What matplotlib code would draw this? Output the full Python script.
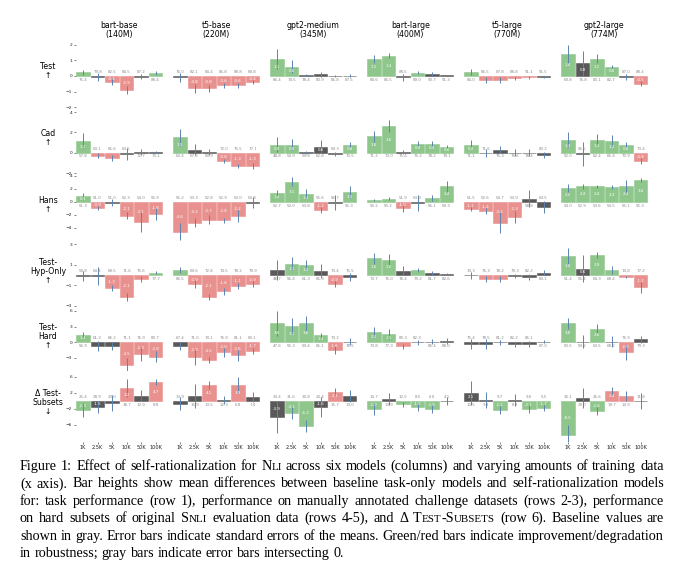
import re
import matplotlib.pyplot as plt

sizes = ['1K', '2.5K', '5K', '10K', '50K', '100K']
models = ['bart-base\n(140M)', 't5-base\n(220M)', 'gpt2-medium\n(345M)',
          'bart-large\n(400M)', 't5-large\n(770M)', 'gpt2-large\n(774M)']
row_labels = ['Test\n↑', 'Cad\n↑', 'Hans\n↑', 'Test-\nHyp-Only\n↑',
              'Test-\nHard\n↑', 'Δ Test-\nSubsets\n↓']

# row 1: Test (one list per model, bars = training sizes)
test_diff = [[0.22, -0.05, -0.36, -0.88, -0.05, 0.18],
             [-0.1, -0.8, -0.8, -0.6, -0.6, -0.4],
             [1.1, 0.6, 0.05, 0.1, 0.02, 0.02],
             [1.1, 1.3, -0.1, 0.2, 0.1, 0.03],
             [0.25, -0.25, -0.25, -0.15, -0.1, -0.05],
             [1.4, 0.8, 1.1, 0.6, -0.05, -0.5]]
test_err = [[0.17, 0.25, 0.2, 0.25, 0.15, 0.12],
            [0.3, 0.3, 0.2, 0.15, 0.15, 0.15],
            [0.65, 0.4, 0.08, 0.15, 0.06, 0.1],
            [0.25, 0.15, 0.25, 0.1, 0.12, 0.05],
            [0.2, 0.2, 0.2, 0.1, 0.08, 0.06],
            [0.55, 0.82, 0.3, 0.1, 0.2, 0.15]]
test_base = [[75.4, 79.8, 82.5, 84.5, 87.2, 88.4],
             [76.0, 82.1, 84.4, 85.8, 88.8, 89.8],
             [66.4, 74.5, 78.4, 80.9, 85.8, 87.5],
             [84.6, 86.5, 88.5, 89.0, 90.7, 91.3],
             [84.0, 86.5, 87.8, 88.8, 91.1, 91.5],
             [69.8, 76.8, 80.1, 82.7, 87.0, 88.4]]

# row 2: Cad
cad_diff = [[1.2, -0.3, -0.5, -0.1, 0.05, 0.03],
            [1.5, 0.3, 0.1, -0.8, -1.3, -1.3],
            [0.8, 0.8, 0.05, 0.6, -0.1, 0.8],
            [1.6, 2.6, 0.1, 0.9, 0.9, 0.6],
            [0.8, -0.05, 0.3, 0.02, 0.02, -0.2],
            [1.3, -0.1, 1.3, 1.2, 0.8, -0.8]]
cad_err = [[0.75, 0.25, 0.3, 0.6, 0.3, 0.1],
           [0.8, 0.55, 0.3, 0.2, 0.2, 0.3],
           [0.7, 0.55, 0.15, 0.65, 0.2, 0.3],
           [0.5, 0.6, 0.2, 0.25, 0.3, 0.2],
           [0.45, 0.4, 0.35, 0.3, 0.3, 0.3],
           [0.7, 1.2, 0.5, 0.5, 0.3, 0.3]]
cad_base = [[57.8, 63.1, 65.6, 63.5, 72.7, 73.1],
            [63.4, 67.6, 69.9, 72.0, 75.5, 77.1],
            [48.8, 54.9, 59.8, 62.8, 69.3, 70.5],
            [71.2, 73.0, 75.4, 76.2, 78.2, 79.1],
            [71.1, 71.6, 75.3, 76.6, 78.4, 80.2],
            [52.0, 56.5, 62.4, 65.4, 70.9, 73.4]]

# row 3: Hans
hans_diff = [[0.9, -0.9, -0.1, -2.1, -3.1, -1.8],
             [-4.6, -3.2, -2.7, -2.8, -2.2, -0.1],
             [1.4, 3.1, 1.3, -1.2, -0.1, 1.5],
             [0.3, 0.5, -1.0, -0.2, 0.6, 2.4],
             [-1.1, -1.4, -3.2, -2.3, 0.5, -0.8],
             [2.1, 2.4, 2.4, 2.3, 2.4, 3.4]]
hans_err = [[0.5, 0.3, 0.5, 0.5, 1.5, 0.9],
            [1.3, 0.7, 0.7, 0.4, 0.9, 0.8],
            [0.5, 0.7, 0.7, 0.5, 1.2, 0.9],
            [0.1, 0.2, 0.6, 1.2, 0.5, 0.8],
            [0.3, 0.5, 1.6, 0.9, 1.3, 0.9],
            [0.6, 0.4, 0.2, 0.3, 1.0, 0.3]]
hans_base = [[51.3, 51.0, 51.0, 52.3, 54.0, 55.9],
             [55.2, 53.3, 52.8, 52.9, 53.0, 54.8],
             [52.7, 52.0, 53.8, 55.6, 56.7, 55.3],
             [50.2, 50.2, 51.9, 53.3, 56.1, 59.3],
             [51.5, 52.6, 54.7, 54.9, 58.8, 63.5],
             [54.0, 52.9, 53.6, 54.5, 55.1, 55.3]]

# row 4: Test-Hyp-Only
hyp_diff = [[-0.1, -0.1, -1.3, -2.1, -0.4, 0.2],
            [0.5, -0.9, -2.1, -1.6, -1.1, -0.9],
            [0.5, 1.1, 1.0, 0.4, -0.9, -0.2],
            [1.6, 1.5, 0.4, 0.5, 0.2, 0.05],
            [-0.05, -0.4, -0.4, -0.1, -0.2, 0.2],
            [1.8, 0.6, 1.9, 0.5, -0.2, -1.2]]
hyp_err = [[0.5, 0.9, 0.3, 0.4, 0.3, 0.15],
           [0.3, 0.4, 0.3, 0.3, 0.3, 0.3],
           [1.0, 0.6, 0.5, 0.7, 0.3, 0.4],
           [0.5, 0.5, 0.45, 0.2, 0.2, 0.1],
           [0.3, 0.3, 0.3, 0.2, 0.25, 0.25],
           [0.8, 1.3, 0.3, 0.4, 0.1, 0.5]]
hyp_base = [[59.8, 64.4, 68.5, 71.6, 75.6, 77.7],
            [66.5, 69.6, 72.8, 74.5, 78.2, 79.9],
            [48.7, 56.4, 61.3, 65.3, 73.4, 75.5],
            [73.7, 76.0, 78.4, 79.2, 81.7, 82.6],
            [74.3, 76.3, 78.2, 79.3, 82.2, 83.1],
            [51.4, 55.4, 64.3, 68.4, 74.8, 77.2]]

# row 5: Test-Hard
hard_diff = [[1.4, -0.8, -0.7, -4.5, -2.3, -2.8],
             [-0.7, -2.9, -3.5, -2.0, -2.6, -1.7],
             [3.6, 3.1, 3.6, 1.3, -1.6, 0.1],
             [2.0, 1.5, -0.8, -0.05, 0.05, 0.2],
             [-0.4, -0.4, -0.02, -0.4, -0.4, 0.05],
             [3.6, 0.1, 2.6, 0.1, -2.0, 0.5]]
hard_err = [[0.6, 1.0, 0.8, 1.5, 1.3, 1.0],
            [0.8, 1.5, 0.6, 0.8, 1.0, 0.6],
            [2.4, 1.5, 1.5, 0.5, 0.8, 0.7],
            [1.0, 1.0, 0.5, 0.5, 0.5, 0.5],
            [0.9, 0.9, 0.5, 0.5, 0.6, 0.3],
            [1.0, 1.2, 0.8, 1.0, 1.5, 0.6]]
hard_base = [[56.9, 61.3, 66.2, 71.1, 76.9, 80.7],
             [67.4, 71.0, 74.1, 76.9, 81.1, 83.1],
             [47.6, 55.3, 59.4, 65.1, 73.2, 78.5],
             [73.8, 77.3, 80.3, 82.3, 86.4, 88.0],
             [75.4, 78.5, 81.2, 82.2, 85.1, 87.0],
             [50.5, 59.2, 63.5, 68.2, 76.9, 79.3]]

# row 6: Delta Test-Subsets (lower is better)
sub_diff = [[-2.3, -1.5, -0.4, 3.2, 1.3, 4.7],
            [-0.7, 1.3, 4.1, 0.3, 3.9, 1.0],
            [-3.9, -3.1, -6.2, -1.6, 2.3, 1.3],
            [-2.0, 0.5, -0.8, -1.6, -2.0, -0.1],
            [2.1, 0.3, -2.2, 0.3, -2.1, -1.7],
            [-8.5, 0.8, -2.6, 2.4, 1.3, -0.1]]
sub_err = [[1.8, 1.6, 2.0, 2.2, 1.4, 0.7],
           [1.6, 3.0, 1.0, 1.0, 2.0, 1.2],
           [4.0, 1.5, 1.5, 2.5, 1.0, 1.5],
           [1.6, 1.6, 0.6, 1.0, 1.0, 1.0],
           [3.0, 2.0, 1.0, 1.5, 1.0, 0.8],
           [2.5, 2.5, 1.0, 1.0, 1.2, 2.0]]
sub_base = [[25.4, 28.9, 23.0, 18.7, 12.9, 8.8],
            [13.9, 15.9, 13.5, 12.3, 6.8, 7.4],
            [33.4, 31.6, 30.8, 24.4, 15.7, 13.0],
            [14.7, 13.9, 12.5, 8.5, 6.0, 4.1],
            [10.5, 9.3, 9.7, 8.9, 9.0, 5.5],
            [36.1, 29.0, 26.6, 19.7, 14.9, 11.8]]

rows = [(test_diff, test_err, test_base), (cad_diff, cad_err, cad_base),
        (hans_diff, hans_err, hans_base), (hyp_diff, hyp_err, hyp_base),
        (hard_diff, hard_err, hard_base), (sub_diff, sub_err, sub_base)]
lower_better = [False, False, False, False, False, True]

ylims = [(-2.12, 2.3), (-2.14, 4.3), (-6.23, 4.23), (-3.2, 3.15), (-5.6, 6.58), (-10.25, 7.5)]
yticks = [[-2, -1, 0, 1, 2], [-2, 0, 2, 4], [-4, -2, 0, 2, 4],
          [-3, -1, 1, 3], [-3, 0, 3, 6], [-6, -2, 2, 6]]

GREEN, RED, GRAY = '#8fc68c', '#e8918f', '#595959'

fig = plt.figure(figsize=(6.8, 5.74), dpi=100)
gs = fig.add_gridspec(6, 6, left=0.1114, right=0.9526, top=0.9303, bottom=0.230,
                      wspace=0.115, hspace=0, height_ratios=[69, 65.5, 68, 65.5, 63, 71])
fig_h = fig.get_figheight() * fig.dpi

for r, (diff, err, base) in enumerate(rows):
    for c in range(6):
        ax = fig.add_subplot(gs[r, c])
        v, e, b = diff[c], err[c], base[c]
        x = list(range(6))
        cols = []
        for vi, ei in zip(v, e):
            if abs(vi) <= ei:
                cols.append(GRAY)
            elif (vi > 0) != lower_better[r]:
                cols.append(GREEN)
            else:
                cols.append(RED)
        ax.bar(x, v, width=0.9, color=cols, edgecolor=cols, linewidth=0.4, zorder=2)
        ax.errorbar(x, v, yerr=e, fmt='none', ecolor='#5b84b1', elinewidth=0.7,
                    capsize=0, zorder=3)
        ax.set_xlim(-0.5, 5.5)
        ax.set_ylim(*ylims[r])
        scale = ax.get_position().height * fig_h / (ylims[r][1] - ylims[r][0])

        for xi, vi, bi in zip(x, v, b):
            # value inside the bar when it fits
            if abs(vi) * scale >= 5.5:
                ax.text(xi, vi / 2, f'{vi:.1f}', color='white', fontsize=2.9,
                        ha='center', va='center', zorder=4)
            # baseline on the opposite side of the bar
            ax.annotate(f'{bi:.1f}', (xi, 0), xytext=(0, -2.7 if vi >= 0 else 2.7),
                        textcoords='offset points', ha='center', va='center',
                        fontsize=2.9, color='#8c8c8c', zorder=4)

        for s in ax.spines.values():
            s.set_visible(False)
        ax.set_yticks(yticks[r])
        ax.set_xticks(x)
        ax.tick_params(length=1.5, width=0.4, pad=1, labelsize=3.2, colors='#222222')
        ax.tick_params(axis='x', labelsize=3.6)
        if c > 0:
            ax.tick_params(axis='y', left=False, labelleft=False)
        if r < 5:
            ax.tick_params(axis='x', bottom=False, labelbottom=False)
        else:
            ax.set_xticklabels(sizes)
        if r == 0:
            ax.set_title(models[c], fontsize=5.6, pad=2, linespacing=1.0)
        if c == 0:
            ax.text(-0.32, 0.55, row_labels[r], transform=ax.transAxes, ha='center',
                    va='center', fontsize=5.6, linespacing=1.0)

# caption, justified, with small caps in braces
cap_lines = [
    "Figure 1: Effect of self-rationalization for N{LI} across six models (columns) and varying amounts of training data",
    "(x axis). Bar heights show mean differences between baseline task-only models and self-rationalization models",
    "for: task performance (row 1), performance on manually annotated challenge datasets (rows 2-3), performance",
    "on hard subsets of original S{NLI} evaluation data (rows 4-5), and Δ T{EST}-S{UBSETS} (row 6). Baseline values are",
    "shown in gray. Error bars indicate standard errors of the means. Green/red bars indicate improvement/degradation",
    "in robustness; gray bars indicate error bars intersecting 0.",
]
cap_size = 10.2
sc_size = cap_size * 0.78
serif = 'Liberation Serif'
fig_w = fig.get_figwidth() * fig.dpi
renderer = fig.canvas.get_renderer()


def seg_width(s, size):
    t = fig.text(0, 0, s, fontsize=size, family=serif)
    w = t.get_window_extent(renderer).width
    t.remove()
    return w


space_w = seg_width('x x', cap_size) - seg_width('xx', cap_size)
left_px, right_px = 20, 664

for i, line in enumerate(cap_lines):
    words = []
    for w in line.split(' '):
        segs = []
        for p in re.split(r'(\{[^}]*\})', w):
            if not p:
                continue
            if p.startswith('{'):
                segs.append((p[1:-1], sc_size))
            else:
                segs.append((p, cap_size))
        widths = [seg_width(s, sz) for s, sz in segs]
        words.append((segs, widths))
    total = sum(sum(ws) for _, ws in words)
    if i < len(cap_lines) - 1:
        gap = (right_px - left_px - total) / (len(words) - 1)
    else:
        gap = space_w
    xpx = left_px
    y = 1 - (470 + 17.4 * i) / fig_h
    for segs, widths in words:
        for (s, sz), wd in zip(segs, widths):
            fig.text(xpx / fig_w, y, s, fontsize=sz, family=serif, va='baseline', ha='left')
            xpx += wd
        xpx += gap

fig.savefig('out.png', dpi=100)
